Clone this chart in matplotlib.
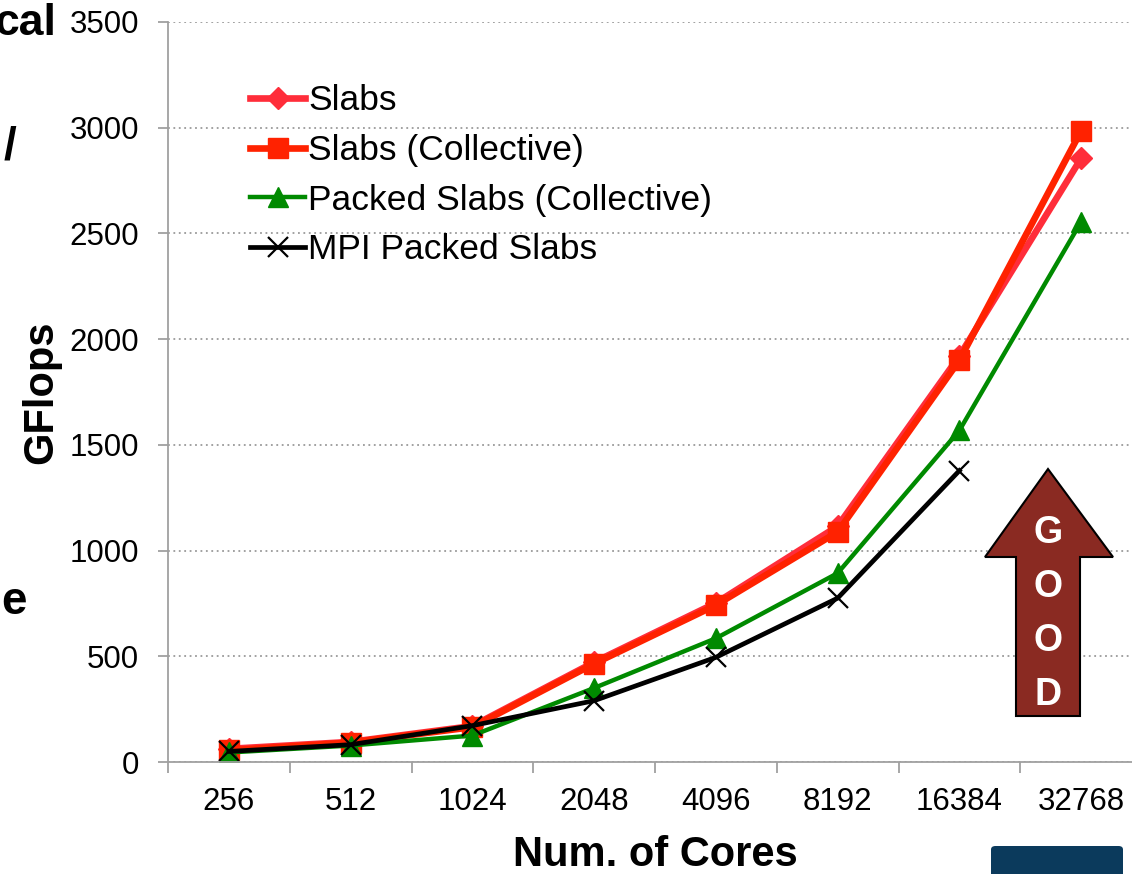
import numpy as np
import matplotlib
matplotlib.use("Agg")
import matplotlib.pyplot as plt
from matplotlib.patches import Polygon, FancyBboxPatch

plt.rcParams["font.family"] = ["Liberation Sans", "DejaVu Sans"]

# Data
cores = ["256", "512", "1024", "2048", "4096", "8192", "16384", "32768"]
slabs = [62, 95, 170, 472, 752, 1115, 1920, 2855]
slabs_coll = [55, 92, 165, 465, 742, 1088, 1900, 2985]
packed_coll = [45, 78, 125, 350, 585, 893, 1568, 2555]
mpi_packed = [50, 82, 172, 290, 495, 775, 1378]

W, H = 1132, 874
fig = plt.figure(figsize=(W / 100, H / 100), dpi=100)
ax = fig.add_axes([168 / W, (H - 762) / H, (1142 - 168) / W, (762 - 22) / H])

x = np.arange(len(cores))
ax.plot(x, slabs, color="#ff2d3a", lw=4.8, marker="D", ms=11, label="Slabs")
ax.plot(x, slabs_coll, color="#ff2200", lw=4.8, marker="s", ms=14,
        label="Slabs (Collective)")
ax.plot(x, packed_coll, color="#008a00", lw=3.2, marker="^", ms=14,
        label="Packed Slabs (Collective)")
ax.plot(x[:len(mpi_packed)], mpi_packed, color="black", lw=3.4, marker="x",
        ms=14, mew=1.6, label="MPI Packed Slabs")

ax.set_xlim(-0.5, len(cores) - 0.5)
ax.set_ylim(0, 3500)
ax.set_yticks(np.arange(0, 3501, 500))
ax.set_xticks(x)
ax.set_xticklabels(cores)
ax.set_xticks(np.arange(-0.5, len(cores)), minor=True)
ax.tick_params(axis="x", which="major", length=0, pad=18, labelsize=22.5)
ax.tick_params(axis="x", which="minor", length=8, width=1.3, color="#a0a0a0")
ax.tick_params(axis="y", length=7, width=1.3, color="#a0a0a0", pad=14,
               labelsize=22.5)
ax.yaxis.grid(True, ls=(0, (1, 2)), color="#9a9a9a", lw=1.3)
ax.set_axisbelow(True)
for s in ("top", "right"):
    ax.spines[s].set_visible(False)
for s in ("left", "bottom"):
    ax.spines[s].set_color("#a0a0a0")
    ax.spines[s].set_linewidth(1.3)

ax.set_ylabel("GFlops", fontsize=30, fontweight="bold", labelpad=6)
ax.set_xlabel("Num. of Cores", fontsize=30, fontweight="bold", labelpad=13)

ax.legend(loc="upper left", bbox_to_anchor=(0.07, 0.935), frameon=False,
          fontsize=25.5, handlelength=1.55, handletextpad=0.08,
          labelspacing=0.47, borderaxespad=0)

# "GOOD" arrow
def fp(px, py):
    return (px / W, (H - py) / H)

arrow = [fp(1016, 716), fp(1016, 557), fp(985, 557), fp(1048, 469),
         fp(1113, 557), fp(1080, 557), fp(1080, 716)]
fig.patches.append(Polygon(arrow, closed=True, transform=fig.transFigure,
                           facecolor="#8a2a22", edgecolor="black", lw=1.5))
for ch, py in zip("GOOD", [533, 587, 641, 695]):
    fig.text(1048 / W, (H - py) / H, ch, color="white", fontsize=27,
             fontweight="bold", ha="center", va="center")

# slide fragments at the left edge and the logo bottom right
fig.text(56 / W, (H - 35) / H, "cal", fontsize=32, fontweight="bold",
         ha="right", va="baseline")
fig.text(16 / W, (H - 160) / H, "/", fontsize=33, fontweight="bold",
         ha="right", va="baseline")
fig.text(27 / W, (H - 614) / H, "e", fontsize=33, fontweight="bold",
         ha="right", va="baseline")
fig.patches.append(FancyBboxPatch(fp(991, 880), 132 / W, 34 / H,
                                  boxstyle="round,pad=0,rounding_size=0.004",
                                  transform=fig.transFigure,
                                  facecolor="#0b3a5c", edgecolor="none"))

fig.savefig("out.png", dpi=100)
